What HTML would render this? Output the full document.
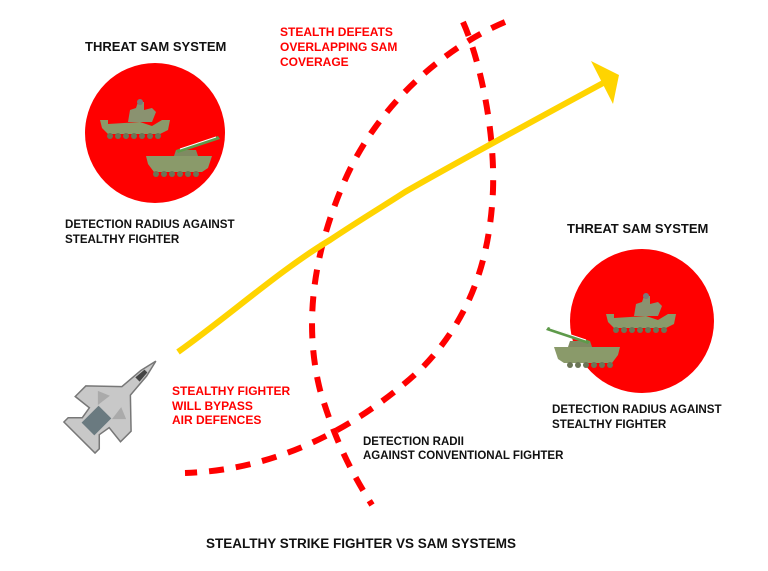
<!DOCTYPE html>
<html><head><meta charset="utf-8"><style>
html,body{margin:0;padding:0;background:#fff}
svg{display:block}
text{font-family:"Liberation Sans",Arial,sans-serif;font-weight:bold}
.r{fill:#f00}.k{fill:#111}
</style></head><body>
<svg width="768" height="571" viewBox="0 0 768 571">
<defs>
<g id="tank1">
 <path d="M0,22 L8,22 L8,26 L40,24 L52,28 L62,22 L70,22 L68,32 L60,36 L8,36 L2,30 Z" fill="#8a9a6a"/>
 <path d="M28,24 L30,12 L36,10 L38,4 L44,4 L44,12 L52,10 L56,14 L52,24 Z" fill="#8a9270"/>
 <circle cx="40" cy="4" r="3" fill="#7a7a7a"/>
 <g fill="#6b7556"><circle cx="10" cy="38" r="3"/><circle cx="18" cy="38" r="3"/><circle cx="26" cy="38" r="3"/><circle cx="34" cy="38" r="3"/><circle cx="42" cy="38" r="3"/><circle cx="50" cy="38" r="3"/><circle cx="58" cy="38" r="3"/></g>
</g>
<g id="tank2">
 <path d="M0,14 L66,14 L62,26 L56,30 L8,30 L2,22 Z" fill="#8a9a6a"/>
 <path d="M28,14 L30,8 L50,8 L52,14 Z" fill="#7f8a62"/>
 <path d="M30,8 L72,-6 L74,-3 L32,11 Z" fill="#5e9a4a"/>
 <path d="M34,7 L70,-5" stroke="#fff" stroke-width="1"/>
 <g fill="#6b7556"><circle cx="10" cy="32" r="3"/><circle cx="18" cy="32" r="3"/><circle cx="26" cy="32" r="3"/><circle cx="34" cy="32" r="3"/><circle cx="42" cy="32" r="3"/><circle cx="50" cy="32" r="3"/></g>
</g>
</defs>

<circle cx="155" cy="133" r="70" fill="#f00"/>
<use href="#tank1" x="100" y="98"/>
<use href="#tank2" x="146" y="142"/>

<circle cx="642" cy="321" r="72" fill="#f00"/>
<use href="#tank1" x="606" y="292"/>
<g transform="translate(620,333) scale(-1,1)">
 <use href="#tank2" x="0" y="0"/>
</g>

<path d="M505,22 C450,45 380,100 345,180 C310,260 305,330 320,390 C335,440 350,470 372,505" fill="none" stroke="#f00" stroke-width="6" stroke-dasharray="15,12"/>
<path d="M463,22 C480,60 495,130 493,190 C490,260 470,320 420,370 C360,425 280,470 185,473" fill="none" stroke="#f00" stroke-width="6" stroke-dasharray="15,12"/>

<path d="M178,352 C230,315 280,270 330,240 C360,220 385,205 405,192 C440,172 520,128 605,82" fill="none" stroke="#ffd400" stroke-width="6"/>
<polygon points="591,61 619,75 613,104" fill="#ffd400"/>

<g transform="translate(112,405) rotate(45)">
 <path d="M0,-62 L4,-45 L6,-20 L32,5 L32,20 L14,18 L12,30 L22,40 L22,46 L-22,46 L-22,40 L-12,30 L-14,18 L-32,20 L-32,5 L-6,-20 L-4,-45 Z" fill="#c8c8c8" stroke="#777" stroke-width="1.5"/>
 <path d="M-2,-48 L2,-48 L3,-36 L-3,-36 Z" fill="#444"/>
 <rect x="-9" y="10" width="18" height="24" fill="#6a7a80"/>
 <path d="M-20,0 L-8,-5 L-10,10 Z M20,0 L8,-5 L10,10 Z" fill="#aaa"/>
</g>

<text class="k" x="85" y="51" style="font-size:13px">THREAT SAM SYSTEM</text>
<text class="r" x="280" y="36" style="font-size:12px">STEALTH DEFEATS</text>
<text class="r" x="280" y="51" style="font-size:12px">OVERLAPPING SAM</text>
<text class="r" x="280" y="66" style="font-size:12px">COVERAGE</text>
<text class="k" x="65" y="228" style="font-size:11.6px">DETECTION RADIUS AGAINST</text>
<text class="k" x="65" y="243" style="font-size:11.6px">STEALTHY FIGHTER</text>
<text class="k" x="567" y="233" style="font-size:13px">THREAT SAM SYSTEM</text>
<text class="r" x="172" y="395" style="font-size:12px">STEALTHY FIGHTER</text>
<text class="r" x="172" y="410" style="font-size:12px">WILL BYPASS</text>
<text class="r" x="172" y="424" style="font-size:12px">AIR DEFENCES</text>
<text class="k" x="552" y="413" style="font-size:11.6px">DETECTION RADIUS AGAINST</text>
<text class="k" x="552" y="428" style="font-size:11.6px">STEALTHY FIGHTER</text>
<text class="k" x="363" y="445" style="font-size:11.5px">DETECTION RADII</text>
<text class="k" x="363" y="459" style="font-size:11.5px">AGAINST CONVENTIONAL FIGHTER</text>
<text class="k" x="206" y="548" style="font-size:13.5px">STEALTHY STRIKE FIGHTER VS SAM SYSTEMS</text>
</svg>
</body></html>
